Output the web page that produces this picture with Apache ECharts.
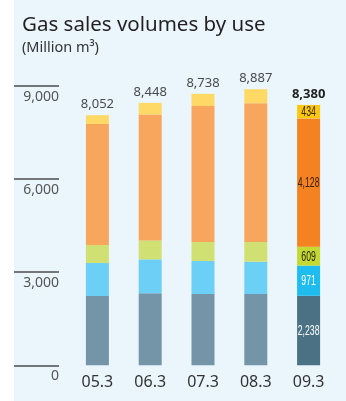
<!DOCTYPE html>
<html>
<head>
<meta charset="utf-8">
<script src="https://cdn.jsdelivr.net/npm/echarts@6/dist/echarts.min.js"></script>
<style>
  html, body { margin: 0; padding: 0; background: #ffffff; }
  #chart { position: absolute; left: 14px; top: 0; width: 332px; height: 401px; background: #eaf6fc; }
</style>
</head>
<body>
<div id="chart"></div>
<script>
// Fiscal year-end categories
const categories = ['05.3', '06.3', '07.3', '08.3', '09.3'];

// Gas sales volumes by use (million m3), stacked bottom to top
const segmentA = [2230, 2320, 2295, 2295, 2238];
const segmentB = [1062, 1090, 1062, 1040, 971];
const segmentC = [580, 610, 612, 634, 609];
const segmentD = [3895, 4050, 4377, 4468, 4128];
const segmentE = [285, 378, 392, 450, 434];

// Totals printed above each bar
const totals = [8052, 8448, 8738, 8887, 8380];

// Value axis ticks
const yTicks = [0, 3000, 6000, 9000];

// Muted colours for earlier years, saturated colours for the latest year
const mutedColors = ['#7395a7', '#6ccff6', '#d1e073', '#f8a55e', '#ffd966'];
const latestColors = ['#4a7184', '#1ebcef', '#c4d932', '#f58220', '#fdc70f'];
const latestLabelColors = ['#ffffff', '#ffffff', '#2a2a10', '#3a2008', '#3a2a00'];

const fmt = v => v.toLocaleString('en-US');
const segments = [segmentA, segmentB, segmentC, segmentD, segmentE];
const lastIdx = categories.length - 1;

const chart = echarts.init(document.getElementById('chart'), null, { renderer: 'canvas' });

const series = segments.map((vals, s) => ({
  type: 'bar',
  stack: 'total',
  barWidth: 23,
  silent: true,
  data: vals.map((v, i) => ({
    value: v,
    itemStyle: { color: i === lastIdx ? latestColors[s] : mutedColors[s] }
  }))
}));

// Zero-height cap carrying the total label at the top of each stack
series.push({
  type: 'bar',
  stack: 'total',
  barWidth: 23,
  silent: true,
  itemStyle: { color: 'transparent' },
  data: totals.map((t, i) => ({
    value: 0,
    label: {
      show: true,
      position: 'top',
      distance: 4,
      formatter: fmt(t),
      fontFamily: '"Noto Sans", sans-serif',
      fontSize: 13,
      fontWeight: i === lastIdx ? 'bold' : 'normal',
      color: i === lastIdx ? '#222222' : '#4a4a4a'
    }
  }))
});

// Condensed segment values inside the latest bar, centred on each segment
const segmentLabels = [];
let base = 0;
segments.forEach((vals, s) => {
  const v = vals[lastIdx];
  segmentLabels.push([lastIdx, base + v / 2, s, v]);
  base += v;
});

series.push({
  type: 'custom',
  silent: true,
  z: 10,
  data: segmentLabels,
  renderItem: (params, api) => {
    const p = api.coord([api.value(0), api.value(1)]);
    const s = api.value(2);
    return {
      type: 'text',
      x: p[0],
      y: p[1] + 0.5,
      scaleX: 0.58,
      style: {
        text: fmt(api.value(3)),
        fill: latestLabelColors[s],
        fontSize: 15,
        fontFamily: '"Liberation Sans", Arial, sans-serif',
        align: 'center',
        verticalAlign: 'middle'
      }
    };
  }
});

chart.setOption({
  animation: false,
  title: {
    text: 'Gas sales volumes by use',
    subtext: '(Million m³)',
    left: 3,
    top: 10,
    itemGap: 4,
    textStyle: { fontFamily: '"Noto Sans", sans-serif', fontSize: 20.5, fontWeight: 'normal', color: '#231f20' },
    subtextStyle: { fontFamily: '"Noto Sans", sans-serif', fontSize: 14.5, color: '#333333' }
  },
  grid: { left: 57, right: 11, top: 85.7, bottom: 35.7 },
  xAxis: {
    type: 'category',
    data: categories,
    axisLine: { show: false },
    axisTick: { show: false },
    axisLabel: {
      margin: 9,
      fontFamily: '"Noto Sans", sans-serif',
      fontSize: 16,
      color: '#333333'
    }
  },
  yAxis: {
    type: 'value',
    min: yTicks[0],
    max: yTicks[yTicks.length - 1],
    interval: yTicks[1] - yTicks[0],
    offset: 12,
    axisLine: { show: false },
    splitLine: { show: false },
    axisTick: { show: true, length: 45, lineStyle: { color: '#4d4d4d', width: 1.5 } },
    axisLabel: {
      margin: 0,
      verticalAlign: 'top',
      padding: [4, 0, 0, 0],
      fontFamily: '"Noto Sans", sans-serif',
      fontSize: 14,
      color: '#555555',
      formatter: v => fmt(v)
    }
  },
  series: series
});
</script>
</body>
</html>
